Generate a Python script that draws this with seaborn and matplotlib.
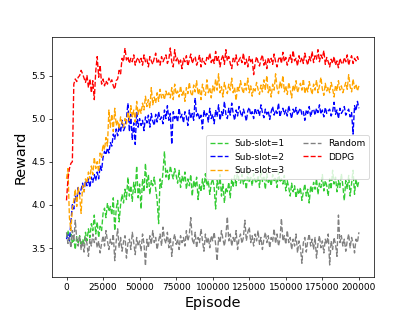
import numpy as np
import matplotlib
matplotlib.use("Agg")
import matplotlib.pyplot as plt
import seaborn as sns
import pandas as pd

episodes = np.arange(0, 200001, 1000)

sub_slot_1 = [
    3.62, 3.70, 3.58, 3.66, 3.55, 3.60, 3.48, 3.63, 3.56, 3.64,
    3.52, 3.60, 3.55, 3.68, 3.58, 3.72, 3.62, 3.78, 3.70, 3.88,
    3.66, 3.80, 3.62, 3.75, 3.70, 3.90, 3.96, 3.85, 4.02, 3.92,
    3.98, 3.88, 4.08, 3.70, 3.95, 4.05, 3.80, 4.00, 4.12, 4.02,
    4.18, 4.06, 4.32, 4.10, 4.22, 4.04, 4.26, 4.14, 4.45, 4.08,
    4.24, 3.95, 4.30, 4.15, 4.48, 4.20, 4.35, 4.12, 4.28, 4.22,
    4.32, 4.18, 4.05, 3.78, 4.30, 4.20, 4.38, 4.62, 4.32, 4.40,
    4.28, 4.45, 4.36, 4.30, 4.42, 4.34, 4.25, 4.40, 4.20, 4.33,
    4.26, 4.38, 4.18, 4.30, 4.22, 4.35, 4.10, 4.28, 4.20, 4.32,
    4.06, 4.24, 4.15, 4.30, 4.18, 4.36, 4.22, 4.28, 4.12, 4.25,
    4.30, 4.20, 3.95, 4.28, 4.18, 4.35, 4.10, 4.24, 4.02, 4.20,
    4.15, 4.26, 4.08, 4.30, 4.20, 4.34, 4.22, 4.40, 4.28, 4.25,
    4.35, 4.24, 4.30, 4.18, 4.38, 4.26, 4.32, 4.22, 4.36, 4.28,
    4.25, 4.34, 4.20, 4.40, 4.27, 4.32, 4.18, 4.36, 4.26, 4.30,
    4.22, 4.35, 4.28, 4.32, 4.20, 4.38, 4.26, 4.30, 4.24, 4.34,
    4.16, 4.28, 4.20, 4.10, 4.25, 4.15, 4.22, 4.08, 4.18, 4.12,
    4.20, 4.05, 4.15, 4.24, 4.10, 4.18, 4.02, 4.22, 4.14, 4.26,
    4.18, 4.30, 4.12, 4.25, 4.20, 4.35, 4.16, 4.28, 4.22, 4.10,
    4.30, 4.18, 4.40, 4.24, 4.32, 4.15, 4.28, 4.20, 4.36, 4.22,
    4.05, 4.28, 4.18, 4.34, 4.10, 4.25, 4.40, 4.12, 4.30, 4.20,
    4.28,
]

sub_slot_2 = [
    3.60, 3.65, 3.58, 3.80, 4.00, 3.95, 4.10, 4.05, 4.20, 4.12,
    4.18, 4.25, 4.15, 4.28, 4.22, 4.30, 4.20, 4.32, 4.26, 4.35,
    4.28, 4.38, 4.30, 4.45, 4.40, 4.55, 4.62, 4.58, 4.66, 4.60,
    4.72, 4.68, 4.82, 4.76, 4.88, 4.80, 4.92, 4.84, 4.98, 4.86,
    4.90, 5.00, 5.18, 4.85, 5.05, 4.75, 4.95, 4.70, 5.08, 4.90,
    5.00, 4.92, 4.98, 4.86, 5.02, 4.95, 5.04, 4.90, 5.06, 4.97,
    4.92, 5.05, 4.96, 5.08, 4.99, 5.02, 4.94, 5.10, 5.00, 5.15,
    4.98, 5.06, 4.70, 5.08, 5.00, 5.04, 4.96, 5.12, 5.01, 5.05,
    4.95, 5.08, 5.02, 4.92, 5.10, 5.00, 5.06, 4.98, 5.24, 5.03,
    5.07, 4.99, 5.04, 4.88, 5.10, 5.02, 5.06, 4.96, 5.12, 5.00,
    5.05, 4.94, 5.10, 5.02, 5.16, 4.98, 5.08, 5.03, 5.20, 5.05,
    5.00, 5.12, 5.04, 5.18, 5.06, 4.98, 5.10, 5.03, 5.14, 5.07,
    5.02, 5.11, 5.05, 4.97, 5.09, 5.13, 5.04, 5.08, 5.00, 5.12,
    5.06, 5.10, 5.03, 5.16, 5.07, 5.01, 5.11, 5.05, 5.09, 4.99,
    5.08, 5.14, 5.04, 5.10, 5.06, 5.18, 5.02, 5.09, 5.12, 5.05,
    5.10, 5.03, 5.15, 5.07, 5.00, 5.11, 5.06, 5.13, 5.04, 5.09,
    5.12, 5.05, 5.08, 4.98, 5.10, 5.06, 5.14, 5.02, 5.09, 5.11,
    5.04, 5.12, 5.07, 5.16, 5.05, 5.10, 5.02, 5.13, 5.06, 5.09,
    5.11, 5.03, 5.08, 5.19, 5.05, 5.10, 5.00, 5.12, 5.06, 5.09,
    5.14, 5.04, 5.08, 5.11, 5.02, 5.07, 4.82, 5.15, 5.09, 5.20,
    5.12,
]

sub_slot_3 = [
    4.30, 4.42, 3.85, 3.70, 3.95, 4.05, 4.18, 3.98, 4.20, 4.10,
    3.90, 4.22, 4.15, 4.30, 4.25, 4.38, 4.30, 4.45, 4.35, 4.55,
    4.42, 4.50, 4.38, 4.60, 4.55, 4.70, 4.64, 4.78, 4.68, 5.10,
    4.90, 5.05, 4.85, 5.12, 4.92, 4.98, 4.88, 5.02, 4.95, 4.90,
    5.00, 4.94, 5.08, 4.98, 5.15, 5.02, 5.10, 4.96, 5.20, 5.05,
    5.12, 5.06, 5.18, 5.10, 5.26, 5.14, 5.22, 5.12, 5.36, 5.16,
    5.25, 5.18, 5.30, 5.20, 5.34, 5.24, 5.28, 5.22, 5.32, 5.26,
    5.30, 5.24, 5.36, 5.22, 5.40, 5.28, 5.32, 5.25, 5.38, 5.27,
    5.33, 5.20, 5.36, 5.29, 5.42, 5.30, 5.26, 5.39, 5.31, 5.44,
    5.28, 5.35, 5.22, 5.40, 5.32, 5.27, 5.45, 5.30, 5.36, 5.24,
    5.38, 5.31, 5.46, 5.33, 5.52, 5.30, 5.37, 5.25, 5.42, 5.34,
    5.29, 5.40, 5.33, 5.47, 5.30, 5.36, 5.21, 5.38, 5.32, 5.44,
    5.35, 5.29, 5.41, 5.33, 5.47, 5.30, 5.38, 5.26, 5.36, 5.32,
    5.42, 5.34, 5.28, 5.39, 5.31, 5.45, 5.33, 5.50, 5.30, 5.37,
    5.25, 5.40, 5.33, 5.52, 5.36, 5.29, 5.43, 5.35, 5.50, 5.31,
    5.38, 5.28, 5.42, 5.34, 5.24, 5.39, 5.32, 5.44, 5.30, 5.36,
    5.41, 5.33, 5.46, 5.29, 5.37, 5.31, 5.43, 5.35, 5.28, 5.40,
    5.33, 5.45, 5.30, 5.38, 5.48, 5.34, 5.27, 5.41, 5.32, 5.37,
    5.30, 5.42, 5.35, 5.25, 5.39, 5.32, 5.44, 5.33, 5.38, 5.30,
    5.36, 5.42, 5.34, 5.51, 5.37, 5.31, 5.46, 5.35, 5.40, 5.32,
    5.38,
]

random_policy = [
    3.68, 3.55, 3.62, 3.50, 3.70, 3.58, 3.82, 3.60, 3.52, 3.64,
    3.48, 3.58, 3.45, 3.62, 3.55, 3.40, 3.60, 3.52, 3.66, 3.56,
    3.62, 3.50, 3.58, 3.44, 3.55, 3.64, 3.52, 3.70, 3.58, 3.48,
    3.60, 3.54, 3.66, 3.35, 3.58, 3.72, 3.50, 3.62, 3.46, 3.57,
    3.64, 3.38, 3.55, 3.60, 3.48, 3.68, 3.56, 3.42, 3.62, 3.52,
    3.58, 3.46, 3.66, 3.55, 3.29, 3.60, 3.50, 3.64, 3.54, 3.70,
    3.56, 3.62, 3.48, 3.58, 3.66, 3.52, 3.74, 3.60, 3.55, 3.68,
    3.50, 3.62, 3.40, 3.58, 3.66, 3.54, 3.60, 3.48, 3.64, 3.56,
    3.62, 3.52, 3.70, 3.58, 3.65, 3.85, 3.60, 3.54, 3.68, 3.50,
    3.62, 3.56, 3.72, 3.58, 3.46, 3.66, 3.55, 3.62, 3.50, 3.64,
    3.58, 3.68, 3.54, 3.35, 3.62, 3.56, 3.70, 3.60, 3.52, 3.64,
    3.86, 3.58, 3.66, 3.52, 3.62, 3.56, 3.70, 3.48, 3.60, 3.66,
    3.55, 3.62, 3.82, 3.58, 3.68, 3.74, 3.56, 3.64, 3.52, 3.66,
    3.58, 3.70, 3.54, 3.62, 3.48, 3.60, 3.68, 3.56, 3.64, 3.50,
    3.62, 3.57, 3.72, 3.55, 3.66, 3.52, 3.60, 3.84, 3.58, 3.64,
    3.54, 3.70, 3.56, 3.62, 3.48, 3.60, 3.52, 3.66, 3.44, 3.58,
    3.50, 3.32, 3.56, 3.62, 3.45, 3.58, 3.66, 3.52, 3.60, 3.48,
    3.62, 3.38, 3.55, 3.64, 3.50, 3.58, 3.44, 3.60, 3.54, 3.66,
    3.30, 3.58, 3.48, 3.62, 3.54, 3.40, 3.88, 3.56, 3.64, 3.52,
    3.60, 3.46, 3.58, 3.66, 3.50, 3.62, 3.55, 3.44, 3.60, 3.56,
    3.68,
]

ddpg = [
    4.05, 4.30, 4.42, 4.48, 4.50, 5.40, 5.46, 5.43, 5.48, 5.50,
    5.56, 5.52, 5.47, 5.42, 5.50, 5.36, 5.46, 5.30, 5.44, 5.22,
    5.55, 5.72, 5.48, 5.62, 5.40, 5.46, 5.38, 5.44, 5.40, 5.47,
    5.42, 5.45, 5.38, 5.34, 5.44, 5.46, 5.56, 5.52, 5.70, 5.66,
    5.82, 5.68, 5.72, 5.64, 5.70, 5.66, 5.74, 5.62, 5.68, 5.71,
    5.65, 5.70, 5.62, 5.74, 5.66, 5.69, 5.60, 5.72, 5.67, 5.63,
    5.70, 5.76, 5.64, 5.68, 5.62, 5.72, 5.66, 5.70, 5.74, 5.64,
    5.69, 5.82, 5.66, 5.60, 5.80, 5.67, 5.71, 5.63, 5.68, 5.58,
    5.70, 5.66, 5.73, 5.61, 5.68, 5.75, 5.64, 5.69, 5.72, 5.62,
    5.67, 5.74, 5.60, 5.70, 5.66, 5.63, 5.71, 5.68, 5.76, 5.65,
    5.70, 5.64, 5.78, 5.66, 5.72, 5.60, 5.69, 5.74, 5.63, 5.80,
    5.67, 5.72, 5.64, 5.58, 5.70, 5.66, 5.74, 5.62, 5.68, 5.71,
    5.65, 5.76, 5.63, 5.69, 5.60, 5.72, 5.66, 5.70, 5.51, 5.64,
    5.72, 5.66, 5.61, 5.69, 5.74, 5.62, 5.68, 5.58, 5.71, 5.65,
    5.70, 5.63, 5.75, 5.66, 5.60, 5.69, 5.72, 5.64, 5.77, 5.66,
    5.71, 5.62, 5.68, 5.74, 5.65, 5.79, 5.67, 5.70, 5.61, 5.73,
    5.66, 5.71, 5.64, 5.76, 5.68, 5.62, 5.72, 5.67, 5.78, 5.65,
    5.73, 5.69, 5.80, 5.66, 5.74, 5.70, 5.79, 5.63, 5.71, 5.66,
    5.60, 5.69, 5.64, 5.72, 5.62, 5.67, 5.59, 5.70, 5.65, 5.63,
    5.71, 5.66, 5.74, 5.62, 5.69, 5.73, 5.64, 5.70, 5.67, 5.72,
    5.66,
]

labels = ['Sub-slot=1', 'Sub-slot=2', 'Sub-slot=3', 'Random', 'DDPG']
series = [sub_slot_1, sub_slot_2, sub_slot_3, random_policy, ddpg]
colors = ['#33cc33', 'blue', 'orange', 'gray', 'red']

fig, ax = plt.subplots(figsize=(6.4, 4.8), dpi=64.85)

for lab, vals, col in zip(labels, series, colors):
    df = pd.DataFrame({'Episode': episodes, 'Reward': vals})
    sns.lineplot(data=df, x='Episode', y='Reward', ax=ax, label=lab,
                 color=col, linestyle='--', linewidth=1.5)

ax.set_xticks([0, 25000, 50000, 75000, 100000, 125000, 150000, 175000, 200000])
ax.set_xlabel('Episode', fontsize=16)
ax.set_ylabel('Reward', fontsize=16)
ax.legend(loc='center right', ncol=2)

fig.savefig('out.png', dpi=64.85)
